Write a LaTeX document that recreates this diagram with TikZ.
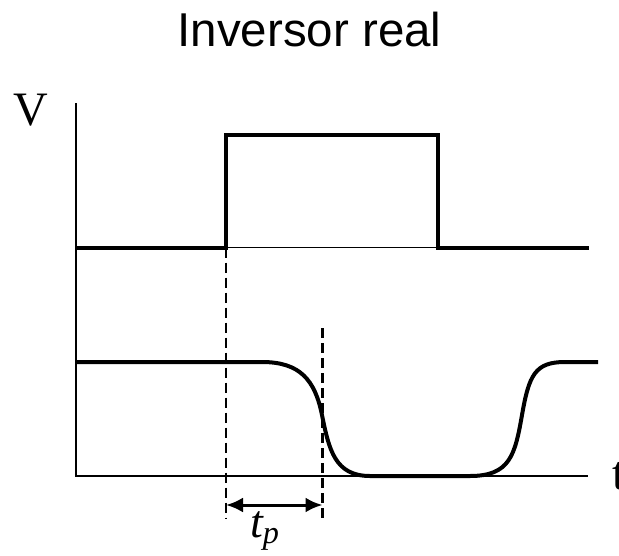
\documentclass[tikz,border=0pt]{standalone}
\usepackage{amsmath}
\usepackage{fontspec}
\setmainfont{Liberation Serif}
\newfontfamily\titlefont{Liberation Sans}
\usetikzlibrary{arrows.meta}

\begin{document}
\begin{tikzpicture}[x=1pt, y=-1pt, >={Latex[length=17pt,width=15pt]},
    signal/.style={line width=4pt},
    axis/.style={line width=2pt},
    guide/.style={line width=2.6pt, dash pattern=on 10pt off 5pt}]
    \def\ax{76} \def\ay{476}
    \def\hi{134.5} \def\lo{247.5} \def\oh{362}
    \def\tr{226} \def\tf{438} \def\td{322.5}
    \useasboundingbox (0,0) rectangle (619,555);
    % Title
    \node[font=\titlefont\fontsize{47.5}{56}\selectfont, anchor=base] (title) at (309.5,46.7) {Inversor real};
    % Axes
    \draw[axis] (\ax,103) -- (\ax,\ay) -- (588,\ay);
    \node[font=\fontsize{48}{56}\selectfont, anchor=base west, inner sep=0pt] (vlabel) at (13,125) {V};
    \node[font=\fontsize{48}{56}\selectfont, anchor=base west, inner sep=0pt] (tlabel) at (612,489) {t};
    % Input pulse
    \draw[line width=1.2pt] (\tr,\lo) -- (\tf,\lo);
    \draw[signal] (\ax,\lo) -- (\tr,\lo) -- (\tr,\hi) -- (\tf,\hi) -- (\tf,\lo) -- (589,\lo);
    % Output (inverted, delayed)
    \draw[signal] (\ax,\oh) -- (262,\oh) .. controls (300,\oh) and (315,380) .. (322,415)
        .. controls (329,450) and (335,\ay) .. (370,\ay) -- (470,\ay)
        .. controls (510,\ay) and (515,455) .. (522,415)
        .. controls (529,375) and (535,\oh) .. (565,\oh) -- (598,\oh);
    % Dashed guides
    \coordinate (d1top) at (\tr,\lo); \coordinate (d1bot) at (\tr,518);
    \coordinate (d2top) at (\td,328); \coordinate (d2bot) at (\td,518);
    \draw[guide] (d1top) -- (d1bot);
    \draw[guide] (d2top) -- (d2bot);
    % Propagation delay
    \coordinate (tpa) at (\tr,505); \coordinate (tpb) at (\td,505);
    \draw[<->, line width=3pt] (tpa) -- (tpb);
    \node[font=\fontsize{46}{52}\selectfont, anchor=base west, inner sep=0pt] (tp) at (250,537) {$\textit{t}_{\textit{p}}$};
\end{tikzpicture}
\end{document}
